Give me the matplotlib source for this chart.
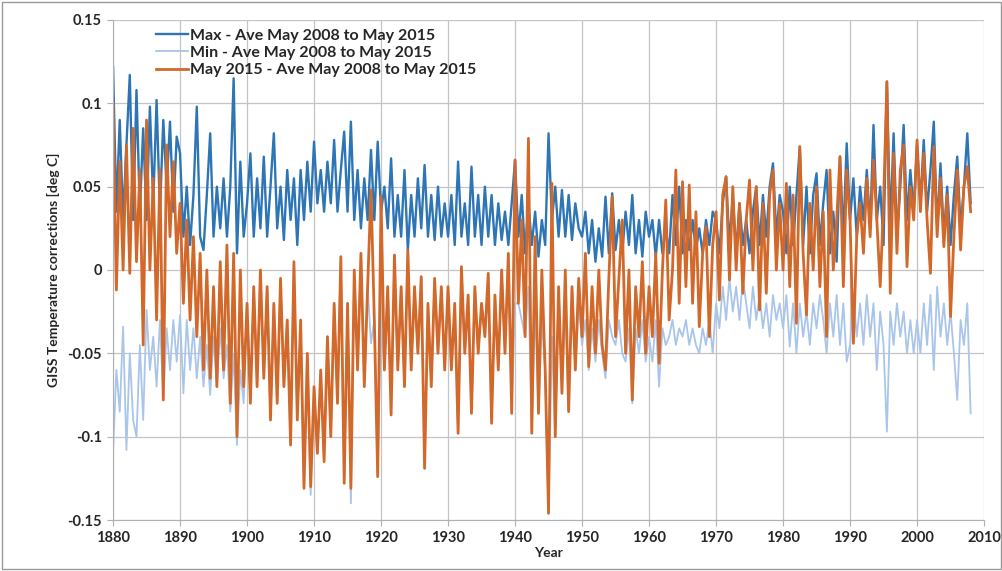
import numpy as np
import matplotlib
matplotlib.use("Agg")
import matplotlib.pyplot as plt
from matplotlib.patches import Rectangle

# half-yearly readings, starting 1880.0
start_year = 1880
step = 0.5

max_ave = [
    # 1880s
    0.122, 0.035, 0.09, 0.03, 0.075, 0.117, 0.03, 0.108, 0.035, 0.085,
    0.03, 0.098, 0.04, 0.102, 0.035, 0.09, 0.05, 0.089, 0.035, 0.08,
    # 1890s
    0.07, 0.02, 0.05, 0.015, 0.045, 0.098, 0.02, 0.012, 0.045, 0.082,
    0.02, 0.05, 0.025, 0.055, 0.02, 0.05, 0.115, 0.01, 0.065, 0.02,
    # 1900s
    0.04, 0.07, 0.02, 0.055, 0.025, 0.068, 0.02, 0.05, 0.082, 0.025,
    0.05, 0.018, 0.06, 0.03, 0.055, 0.015, 0.06, 0.03, 0.065, 0.035,
    # 1910s
    0.077, 0.04, 0.06, 0.035, 0.065, 0.04, 0.078, 0.035, 0.06, 0.083,
    0.035, 0.089, 0.03, 0.06, 0.025, 0.055, 0.03, 0.072, 0.03, 0.077,
    # 1920s
    0.035, 0.05, 0.025, 0.067, 0.02, 0.045, 0.02, 0.06, 0.012, 0.045,
    0.02, 0.055, 0.025, 0.063, 0.02, 0.045, 0.018, 0.05, 0.02, 0.04,
    # 1930s
    0.02, 0.045, 0.015, 0.065, 0.02, 0.04, 0.015, 0.062, 0.02, 0.045,
    0.015, 0.05, 0.02, 0.045, 0.015, 0.04, 0.018, 0.035, 0.015, 0.04,
    # 1940s
    0.066, 0.02, 0.045, 0.01, 0.04, 0.015, 0.035, 0.008, 0.03, 0.015,
    0.082, 0.03, 0.05, 0.02, 0.048, 0.02, 0.045, 0.018, 0.04, 0.025,
    # 1950s
    0.02, 0.035, 0.01, 0.03, 0.005, 0.025, 0.008, 0.044, 0.01, 0.046,
    0.012, 0.03, 0.01, 0.035, 0.015, 0.045, 0.01, 0.03, 0.008, 0.035,
    # 1960s
    0.02, 0.03, 0.008, 0.03, 0.01, 0.025, 0.01, 0.045, 0.015, 0.05,
    0.01, 0.03, 0.012, 0.03, 0.012, 0.025, 0.01, 0.03, 0.015, 0.035,
    # 1970s
    0.03, 0.01, 0.04, 0.056, 0.015, 0.045, 0.01, 0.04, 0.015, 0.03,
    0.01, 0.035, 0.05, 0.015, 0.045, 0.02, 0.05, 0.064, 0.02, 0.045,
    # 1980s
    0.035, 0.01, 0.05, 0.015, 0.045, 0.074, 0.015, 0.05, 0.01, 0.045,
    0.058, 0.015, 0.04, 0.06, 0.01, 0.035, 0.005, 0.068, 0.02, 0.076,
    # 1990s
    0.03, 0.055, 0.02, 0.05, 0.03, 0.06, 0.025, 0.087, 0.03, 0.05,
    0.015, 0.113, 0.025, 0.082, 0.02, 0.05, 0.087, 0.03, 0.06, 0.035,
    # 2000-2008
    0.075, 0.04, 0.078, 0.035, 0.06, 0.089, 0.025, 0.064, 0.02, 0.05,
    0.015, 0.045, 0.068, 0.025, 0.05, 0.082, 0.04,
]

# 1900-1950 the Min line lies hidden under the May 2015 line
min_ave = [
    # 1880s
    -0.11, -0.06, -0.085, -0.034, -0.108, -0.05, -0.09, -0.1, -0.045, -0.09,
    -0.024, -0.06, -0.04, -0.07, -0.03, -0.078, -0.035, -0.06, -0.03, -0.055,
    # 1890s
    -0.027, -0.074, -0.03, -0.06, -0.035, -0.065, -0.04, -0.07, -0.045, -0.075,
    -0.04, -0.07, -0.035, -0.065, -0.045, -0.085, -0.05, -0.105, -0.06, -0.08,
    # 1900s
    -0.02, -0.08, -0.01, -0.07, 0.0, -0.065, -0.01, -0.09, -0.02, -0.08,
    -0.005, -0.07, -0.03, -0.105, 0.005, -0.09, -0.03, -0.131, -0.05, -0.135,
    # 1910s
    -0.07, -0.11, -0.06, -0.115, -0.04, -0.1, -0.02, -0.08, 0.008, -0.128,
    -0.02, -0.14, 0.0, -0.06, 0.01, -0.07, -0.01, -0.044, -0.03, -0.124,
    # 1920s
    -0.03, -0.06, -0.01, -0.087, 0.009, -0.06, -0.01, -0.07, 0.012, -0.06,
    -0.01, -0.05, -0.004, -0.119, -0.02, -0.07, -0.005, -0.05, -0.01, -0.06,
    # 1930s
    -0.01, -0.06, -0.02, -0.098, 0.002, -0.05, -0.015, -0.086, -0.01, -0.05,
    -0.02, -0.04, -0.002, -0.092, -0.015, -0.06, 0.0, -0.05, 0.01, -0.086,
    # 1940s
    -0.02, -0.02, -0.03, -0.04, -0.01, -0.098, -0.02, -0.086, -0.03, -0.06,
    -0.146, -0.04, -0.1, -0.01, -0.074, -0.02, -0.085, -0.01, -0.06, -0.02,
    # 1950s
    -0.045, -0.03, -0.06, -0.035, -0.055, -0.03, -0.05, -0.065, -0.03, -0.04,
    -0.045, -0.03, -0.05, -0.055, -0.035, -0.08, -0.035, -0.05, -0.03, -0.055,
    # 1960s
    -0.04, -0.055, -0.03, -0.07, -0.035, -0.045, -0.04, -0.03, -0.045, -0.035,
    -0.04, -0.03, -0.045, -0.035, -0.045, -0.05, -0.035, -0.045, -0.03, -0.05,
    # 1970s
    -0.02, -0.035, -0.01, -0.03, -0.005, -0.025, -0.01, -0.03, -0.005, -0.02,
    -0.035, -0.01, -0.03, -0.015, -0.035, -0.02, -0.04, -0.015, -0.03, -0.02,
    # 1980s
    -0.035, -0.015, -0.046, -0.02, -0.05, -0.02, -0.04, -0.025, -0.045, -0.02,
    -0.035, -0.015, -0.03, -0.05, -0.02, -0.04, -0.015, -0.045, -0.02, -0.055,
    # 1990s
    -0.045, -0.015, -0.04, -0.02, -0.045, -0.015, -0.04, -0.02, -0.06, -0.025,
    -0.045, -0.097, -0.025, -0.045, -0.02, -0.04, -0.025, -0.05, -0.03, -0.05,
    # 2000-2008
    -0.03, -0.05, -0.02, -0.045, -0.015, -0.06, -0.01, -0.04, -0.02, -0.045,
    -0.025, -0.05, -0.078, -0.03, -0.045, -0.02, -0.086,
]

may2015_ave = [
    # 1880s
    0.1, -0.012, 0.065, 0.0, 0.075, -0.002, 0.085, 0.005, 0.06, -0.045,
    0.09, 0.0, 0.055, -0.03, 0.06, -0.078, 0.075, 0.02, 0.065, 0.01,
    # 1890s
    0.04, -0.02, 0.03, -0.03, 0.02, -0.04, 0.01, -0.06, 0.0, -0.065,
    -0.01, -0.07, 0.005, -0.06, 0.015, -0.08, 0.01, -0.1, 0.0, -0.07,
    # 1900s
    -0.02, -0.08, -0.01, -0.07, 0.0, -0.065, -0.01, -0.09, -0.02, -0.08,
    -0.005, -0.07, -0.03, -0.105, 0.005, -0.09, -0.03, -0.131, -0.05, -0.13,
    # 1910s
    -0.07, -0.11, -0.06, -0.115, -0.04, -0.1, -0.02, -0.08, 0.008, -0.128,
    -0.02, -0.131, 0.0, -0.06, 0.01, -0.07, -0.01, 0.048, -0.03, -0.124,
    # 1920s
    0.044, -0.06, -0.01, -0.087, 0.009, -0.06, -0.01, -0.07, 0.012, -0.06,
    -0.01, -0.05, -0.004, -0.119, -0.02, -0.07, -0.005, -0.05, -0.01, -0.06,
    # 1930s
    -0.01, -0.06, -0.02, -0.098, 0.002, -0.05, -0.015, -0.086, -0.01, -0.05,
    -0.02, -0.04, -0.002, -0.092, -0.015, -0.06, 0.0, -0.05, 0.01, -0.086,
    # 1940s
    0.066, -0.02, 0.03, -0.04, 0.079, -0.098, 0.02, -0.086, 0.0, -0.06,
    -0.146, 0.052, -0.1, -0.01, -0.074, 0.0, -0.085, -0.01, -0.06, -0.005,
    # 1950s
    -0.04, 0.01, -0.058, -0.01, -0.05, 0.0, -0.045, -0.06, -0.005, 0.044,
    -0.04, -0.005, 0.03, -0.05, 0.0, -0.078, -0.01, -0.04, 0.005, -0.05,
    # 1960s
    -0.01, -0.04, 0.01, -0.056, 0.0, 0.042, -0.03, 0.0, 0.06, -0.02,
    0.053, -0.01, 0.051, -0.02, 0.035, -0.034, 0.01, 0.026, -0.04, 0.015,
    # 1970s
    0.035, -0.018, 0.045, 0.056, -0.006, 0.05, 0.0, 0.04, -0.014, 0.03,
    0.054, 0.0, 0.05, -0.024, 0.04, -0.014, 0.045, 0.06, 0.0, 0.04,
    # 1980s
    0.0, 0.052, -0.01, 0.045, -0.032, 0.074, 0.01, -0.027, 0.04, 0.0,
    0.05, -0.01, 0.035, -0.04, 0.06, 0.0, 0.03, 0.068, -0.01, 0.06,
    # 1990s
    0.03, -0.044, 0.02, 0.04, 0.01, 0.055, 0.02, 0.066, 0.03, -0.01,
    0.04, 0.113, -0.014, 0.07, 0.01, 0.06, 0.075, 0.002, 0.05, 0.03,
    # 2000-2008
    0.078, 0.035, 0.07, 0.03, -0.002, 0.074, 0.02, 0.055, 0.014, 0.045,
    -0.028, 0.02, 0.06, 0.012, 0.05, 0.062, 0.035,
]

labels = ["Max - Ave May 2008 to May 2015",
          "Min - Ave May 2008 to May 2015",
          "May 2015 - Ave May 2008 to May 2015"]
colors = ["#2e75b6", "#a9c5ea", "#d2692a"]

years = start_year + step * np.arange(len(max_ave))

plt.rcParams["font.family"] = "Lato"
fig = plt.figure(figsize=(10.03, 5.71), dpi=100)
ax = fig.add_axes([0.1127, 0.0893, 0.8684, 0.8757])

ax.plot(years, max_ave, color=colors[0], lw=1.7, label=labels[0])
ax.plot(years, min_ave, color=colors[1], lw=1.3, label=labels[1])
ax.plot(years, may2015_ave, color=colors[2], lw=2.0, label=labels[2])

ax.set_xlim(1880, 2010)
ax.set_ylim(-0.15, 0.15)
ax.set_xticks(np.arange(1880, 2011, 10))
ax.set_xticklabels([str(y) for y in range(1880, 2011, 10)])
yt = [-0.15, -0.1, -0.05, 0, 0.05, 0.1, 0.15]
ax.set_yticks(yt)
ax.set_yticklabels(["-0.15", "-0.1", "-0.05", "0", "0.05", "0.1", "0.15"])
ax.tick_params(labelsize=10.5, length=4, color="#b0b0b0", pad=4)
for lbl in ax.get_xticklabels() + ax.get_yticklabels():
    lbl.set_fontweight("bold")
    lbl.set_color("#262626")

ax.grid(True, color="#c4c4c4", lw=0.9)
ax.set_axisbelow(True)
for side in ["top", "right"]:
    ax.spines[side].set_visible(False)
for side in ["left", "bottom"]:
    ax.spines[side].set_color("#b0b0b0")

ax.set_xlabel("Year", fontsize=10, fontweight="bold", color="#262626", labelpad=1)
ax.set_ylabel("GISS Temperature corrections [deg C]", fontsize=10,
              fontweight="bold", color="#262626", labelpad=5)

leg = ax.legend(loc="upper left", bbox_to_anchor=(0.033, 1.012), frameon=False,
                handlelength=2.0, handletextpad=0.1, labelspacing=0.2,
                prop={"size": 11.5, "weight": "bold"})
for t in leg.get_texts():
    t.set_color("#262626")

fig.patches.append(Rectangle((0.002, 0.003), 0.996, 0.994, transform=fig.transFigure,
                             fill=False, edgecolor="#9a9a9a", lw=1))

fig.savefig("out.png", dpi=100)
